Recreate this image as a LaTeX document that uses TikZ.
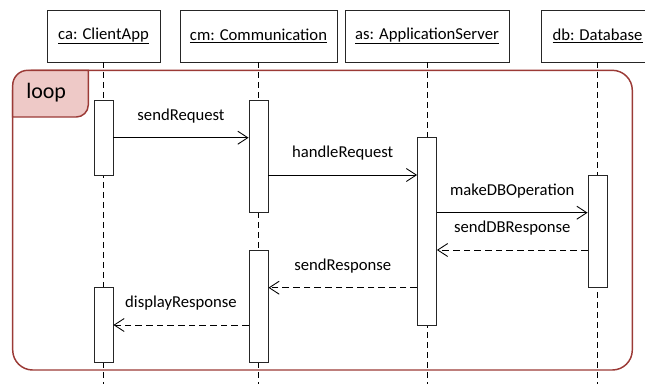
\documentclass[tikz,border=0pt]{standalone}
\usepackage{fontspec}
\setmainfont{Carlito}
\usetikzlibrary{arrows.meta}
\definecolor{framered}{HTML}{9B3A36}
\definecolor{tagfill}{HTML}{EEC9C7}
\begin{document}
\begin{tikzpicture}[x=0.75pt,y=-0.75pt,
  lbl/.style={font=\fontsize{12.5}{15}\selectfont, inner sep=0pt},
  head/.style={draw=black!85, line width=0.65pt, minimum height=39pt, inner sep=0pt,
               font=\fontsize{12.5}{15}\selectfont},
  act/.style={draw=black!85, line width=0.65pt, fill=white, minimum width=14.25pt, inner sep=0pt},
  lifeline/.style={line width=0.7pt, dash pattern=on 4.5pt off 3pt},
  msg/.style={line width=0.65pt, -{Straight Barb[length=7.5pt,width=9.75pt]}},
  reply/.style={msg, dash pattern=on 5pt off 3pt},
  frame/.style={draw=framered, line width=1.1pt}
]
\clip (0,0) rectangle (645,383);

% object heads
\node[head, minimum width=84.75pt]  (ca) at (103.5,36) {\underline{ca: ClientApp}};
\node[head, minimum width=117.75pt] (cm) at (258.5,36) {\underline{cm: Communication}};
\node[head, minimum width=123pt]    (as) at (427,36)   {\underline{as: ApplicationServer}};
\node[head, minimum width=84.75pt]  (db) at (597.5,36) {\underline{db: Database}};

% bottom ends of the lifelines
\coordinate (caEnd) at (103.5,390);
\coordinate (cmEnd) at (258.5,390);
\coordinate (asEnd) at (427,390);
\coordinate (dbEnd) at (597.5,390);

% loop combined fragment
\draw[frame, rounded corners=15] (12.7,70.3) rectangle (632.3,370);
\filldraw[frame, fill=tagfill]
  (12.7,117) -- (12.7,85.3)
  .. controls (12.7,77) and (19.4,70.3) .. (27.7,70.3)
  -- (88.3,70.3) -- (88.3,105)
  .. controls (88.3,111.6) and (82.9,117) .. (76.3,117) -- cycle;
\node[lbl, font=\fontsize{16.5}{19}\selectfont, anchor=west] (looplbl) at (26,93) {loop};

% lifelines
\draw[lifeline] (ca) -- (caEnd);
\draw[lifeline] (cm) -- (cmEnd);
\draw[lifeline] (as) -- (asEnd);
\draw[lifeline] (db) -- (dbEnd);

% activation bars
\node[act, minimum height=56.25pt] (caA) at (103.5,137.5) {};
\node[act, minimum height=84.5pt]  (cmA) at (258.5,156.35) {};
\node[act, minimum height=141pt]   (asA) at (427,231) {};
\node[act, minimum height=84.5pt]  (dbA) at (597.5,231.35) {};
\node[act, minimum height=84.5pt]  (cmB) at (258.5,306.35) {};
\node[act, minimum height=56.25pt] (caB) at (103.5,325.2) {};

% message levels
\coordinate (m1) at (0,137.7);
\coordinate (m2) at (0,175);
\coordinate (m3) at (0,212.7);
\coordinate (m4) at (0,250);
\coordinate (m5) at (0,287.7);
\coordinate (m6) at (0,325);

% messages
\draw[msg] (caA.east |- m1) -- node[lbl, yshift=15.9pt] (t1) {sendRequest} (cmA.west |- m1);
\draw[msg] (cmA.east |- m2) -- node[lbl, yshift=16.2pt] (t2) {handleRequest} (asA.west |- m2);
\draw[msg] (asA.east |- m3) -- node[lbl, yshift=16.4pt] (t3) {makeDBOperation} (dbA.west |- m3);
\draw[reply] (dbA.west |- m4) -- node[lbl, yshift=16.4pt] (t4) {sendDBResponse} (asA.east |- m4);
\draw[reply] (asA.west |- m5) -- node[lbl, yshift=16.2pt] (t5) {sendResponse} (cmB.east |- m5);
\draw[reply] (cmB.west |- m6) -- node[lbl, yshift=16.2pt] (t6) {displayResponse} (caB.east |- m6);
\end{tikzpicture}
\end{document}
